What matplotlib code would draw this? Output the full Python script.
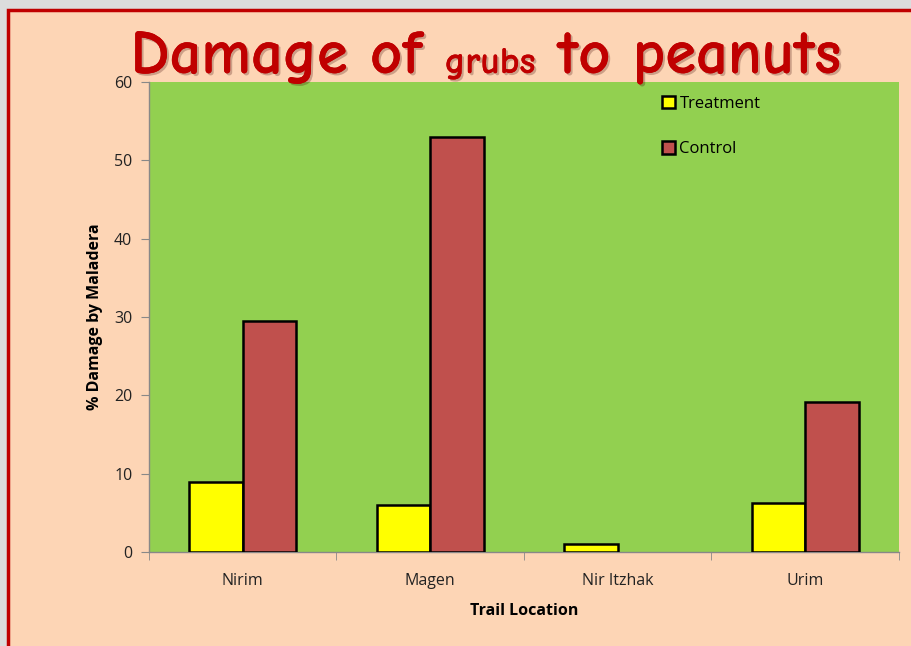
import matplotlib
matplotlib.use("Agg")
import matplotlib.pyplot as plt
import matplotlib.patheffects as pe
from matplotlib.patches import Rectangle
import numpy as np

categories = ["Nirim", "Magen", "Nir Itzhak", "Urim"]
treatment = [9.0, 6.0, 1.0, 6.3]
control = [29.5, 53.0, 0.0, 19.2]
yticks = [0, 10, 20, 30, 40, 50, 60]

W, H = 912, 646
fig = plt.figure(figsize=(W / 100, H / 100), dpi=100)
fig.patch.set_facecolor("#d9d9d9")

# slide frame
bg = fig.add_axes([0, 0, 1, 1])
bg.set_xlim(0, W)
bg.set_ylim(H, 0)
bg.axis("off")
bg.add_patch(Rectangle((0, 0), W, H, facecolor="#dcdcdc", edgecolor="none"))
bg.add_patch(Rectangle((8, 10), W, H, facecolor="#fdd5b5", edgecolor="#c00000", linewidth=2.5))

# title
fs_big, fs_small = 45, 27
title_parts = [("Damage of ", fs_big), ("grubs", fs_small), (" to peanuts", fs_big)]
renderer = fig.canvas.get_renderer()
texts = []
widths = []
for s, fs in title_parts:
    tt = fig.text(0, 0, s, fontsize=fs, fontweight="bold", color="#c00000",
                  family=["Comic Neue", "DejaVu Sans"], va="baseline",
                  path_effects=[pe.withSimplePatchShadow(offset=(1.5, -1.5), alpha=0.25), pe.Normal()])
    texts.append(tt)
    widths.append(tt.get_window_extent(renderer).width)
total = sum(widths)
x0 = 486 - total / 2
base_y = 1 - 73 / H
for tt, w in zip(texts, widths):
    tt.set_position((x0 / W, base_y))
    x0 += w

# plot area
left, right, top, bottom = 149, 899, 82, 552
ax = fig.add_axes([left / W, 1 - bottom / H, (right - left) / W, (bottom - top) / H])
ax.set_facecolor("#92d050")
x = np.arange(len(categories))
bw = 0.285
ax.bar(x - bw / 2, treatment, bw, color="#ffff00", edgecolor="black", linewidth=1.8, label="Treatment", zorder=3)
cb = ax.bar(x + bw / 2, control, bw, color="#c0504d", edgecolor="black", linewidth=1.8, label="Control", zorder=3)
for p, v in zip(cb.patches, control):
    if v == 0:
        p.set_linewidth(0)
ax.set_xlim(-0.5, len(categories) - 0.5)
ax.set_ylim(0, 60)
ax.set_yticks(yticks)
ax.set_xticks(x)
ax.set_xticklabels(categories)
ax.set_xticks(np.arange(len(categories) + 1) - 0.5, minor=True)
ax.tick_params(axis="x", which="major", length=0, pad=15, labelsize=11.5)
ax.tick_params(axis="x", which="minor", length=6, color="#888888", direction="out")
ax.tick_params(axis="y", length=6, color="#888888", labelsize=11.5, pad=6)
for lbl in ax.get_xticklabels() + ax.get_yticklabels():
    lbl.set_family(["Open Sans", "DejaVu Sans"])
    lbl.set_color("#222222")
for s in ["top", "right"]:
    ax.spines[s].set_visible(False)
for s in ["left", "bottom"]:
    ax.spines[s].set_color("#888888")
    ax.spines[s].set_linewidth(1)

ax.set_ylabel("% Damage by Maladera", fontsize=11.5, fontweight="bold", labelpad=8,
              family=["Open Sans", "DejaVu Sans"])
ax.set_xlabel("Trail Location", fontsize=11.5, fontweight="bold", labelpad=10,
              family=["Open Sans", "DejaVu Sans"])

leg = ax.legend(loc="upper left", bbox_to_anchor=(0.664, 1.003), frameon=False,
                handlelength=0.8, handleheight=0.8, handletextpad=0.25, labelspacing=1.75,
                prop={"family": ["Open Sans", "DejaVu Sans"], "size": 12})

fig.savefig("out.png", dpi=100, facecolor=fig.get_facecolor())
